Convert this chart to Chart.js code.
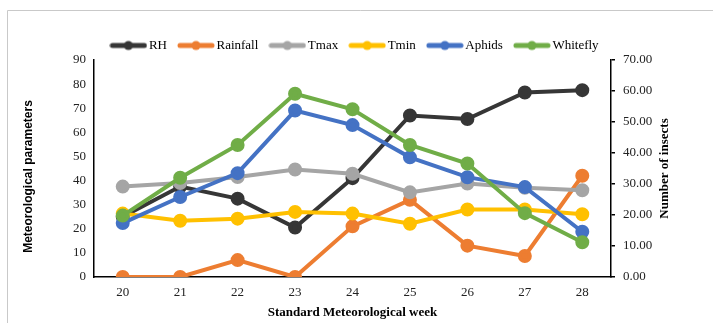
<!DOCTYPE html>
<html lang="en">
<head>
<meta charset="UTF-8" />
<title>Meteorological parameters and insects</title>
<script src="https://cdn.jsdelivr.net/npm/chart.js"></script>
<style>
  html, body { margin: 0; background: #fff; overflow: hidden; }
  .wrap { position: relative; width: 713px; height: 323px; }
</style>
</head>
<body>
<div class="wrap"><canvas id="weather-insect-chart"></canvas></div>
<script>
  // values
  const weeks = ["20", "21", "22", "23", "24", "25", "26", "27", "28"];
  const rh = [25, 37.5, 32.5, 20.5, 41, 67, 65.5, 76.5, 77.5];
  const rainfall = [0, 0, 7, 0, 21, 32, 13, 8.7, 42];
  const tmax = [37.5, 39, 41.5, 44.6, 42.8, 35.1, 38.8, 37, 36];
  const tmin = [26.3, 23.3, 24.2, 27, 26.3, 22.1, 28, 28, 26];
  const aphids = [17.4, 25.8, 33.5, 53.7, 49, 38.6, 32.2, 29, 14.6];
  const whitefly = [19.8, 32, 42.6, 59.1, 54.1, 42.6, 36.6, 20.6, 11.2];

  const serif = '"Liberation Serif", "DejaVu Serif", serif';
  const sans = '"Liberation Sans", Arial, sans-serif';
  Chart.defaults.font.family = serif;
  Chart.defaults.font.size = 13;
  Chart.defaults.color = "#222";

  // line + dot marker for the legend, like the office style
  function marker(color) {
    const c = document.createElement("canvas");
    c.width = 38;
    c.height = 12;
    const g = c.getContext("2d");
    g.strokeStyle = color;
    g.lineWidth = 5;
    g.lineCap = "round";
    g.beginPath();
    g.moveTo(3, 6);
    g.lineTo(35, 6);
    g.stroke();
    g.fillStyle = color;
    g.beginPath();
    g.arc(19, 6, 4.5, 0, Math.PI * 2);
    g.fill();
    return c;
  }

  function series(label, data, color, axis, order) {
    return {
      label: label,
      data: data,
      yAxisID: axis,
      order: order,
      borderColor: color,
      backgroundColor: color,
      pointBackgroundColor: color,
      pointBorderColor: color,
      borderWidth: 4,
      pointRadius: 5,
      pointHoverRadius: 5,
      tension: 0,
      fill: false,
    };
  }

  const datasets = [
    series("RH", rh, "#363636", "y", 6),
    series("Rainfall", rainfall, "#ED7D31", "y", 5),
    series("Tmax", tmax, "#A5A5A5", "y", 4),
    series("Tmin", tmin, "#FFC000", "y", 3),
    series("Aphids", aphids, "#4472C4", "y1", 2),
    series("Whitefly", whitefly, "#70AD47", "y1", 1),
  ];
  const markers = datasets.map((d) => marker(d.borderColor));

  // frame + axis titles for the two value axes (right one reads bottom to top)
  const sideTitles = {
    id: "sideTitles",
    afterLayout(chart) {
      chart.legend.top += 2;
      chart.legend.bottom += 2;
    },
    beforeDraw(chart) {
      const ctx = chart.ctx;
      ctx.save();
      ctx.strokeStyle = "#c9c9c9";
      ctx.lineWidth = 1;
      ctx.beginPath();
      ctx.moveTo(7.5, chart.height);
      ctx.lineTo(7.5, 10.5);
      ctx.lineTo(chart.width, 10.5);
      ctx.stroke();
      ctx.restore();
    },
    afterDraw(chart) {
      const { ctx, chartArea } = chart;
      const mid = (chartArea.top + chartArea.bottom) / 2;
      ctx.save();
      ctx.fillStyle = "#000";
      ctx.textAlign = "center";
      ctx.textBaseline = "middle";
      ctx.translate(29, mid + 8);
      ctx.rotate(-Math.PI / 2);
      ctx.font = "bold 12px " + sans;
      ctx.fillText("Meteorological parameters", 0, 0);
      ctx.restore();
      ctx.save();
      ctx.fillStyle = "#000";
      ctx.textAlign = "center";
      ctx.textBaseline = "middle";
      ctx.translate(665, mid);
      ctx.rotate(-Math.PI / 2);
      ctx.font = "bold 13px " + serif;
      ctx.fillText("Number of insects", 0, 0);
      ctx.restore();
    },
  };

  new Chart(document.getElementById("weather-insect-chart"), {
    type: "line",
    data: { labels: weeks, datasets: datasets },
    plugins: [sideTitles],
    options: {
      responsive: true,
      maintainAspectRatio: false,
      animation: false,
      layout: { padding: { top: 22, left: 0, right: 0, bottom: 0 } },
      plugins: {
        tooltip: { enabled: false },
        legend: {
          position: "top",
          labels: {
            usePointStyle: true,
            pointStyleWidth: 28,
            boxHeight: 12,
            padding: 15,
            color: "#000",
            font: { family: serif, size: 13 },
            sort: (a, b) => a.datasetIndex - b.datasetIndex,
            generateLabels(chart) {
              const items = Chart.defaults.plugins.legend.labels.generateLabels(chart);
              items.forEach((it) => (it.pointStyle = markers[it.datasetIndex]));
              return items;
            },
          },
        },
      },
      scales: {
        x: {
          offset: true,
          grid: { display: false, drawTicks: false },
          border: { color: "#000", width: 1.5 },
          ticks: { padding: 8, color: "#222" },
          title: {
            display: true,
            text: "Standard Meteorological week",
            color: "#000",
            font: { weight: "bold", size: 13 },
            padding: { top: 0, bottom: 3 },
          },
          afterFit: (s) => (s.height = 46),
        },
        y: {
          position: "left",
          min: 0,
          max: 90,
          grid: { display: false, drawTicks: false },
          border: { color: "#000", width: 1.5 },
          ticks: { stepSize: 10, padding: 8, color: "#222" },
          afterFit: (s) => (s.width = 94),
        },
        y1: {
          position: "right",
          min: 0,
          max: 70,
          grid: { display: true, drawOnChartArea: false, drawTicks: true, tickLength: 4, color: "#000", lineWidth: 1.5 },
          border: { color: "#000", width: 1.5 },
          ticks: { stepSize: 10, padding: 8, color: "#222", callback: (v) => Number(v).toFixed(2) },
          afterFit: (s) => (s.width = 102),
        },
      },
    },
  });
</script>
</body>
</html>
